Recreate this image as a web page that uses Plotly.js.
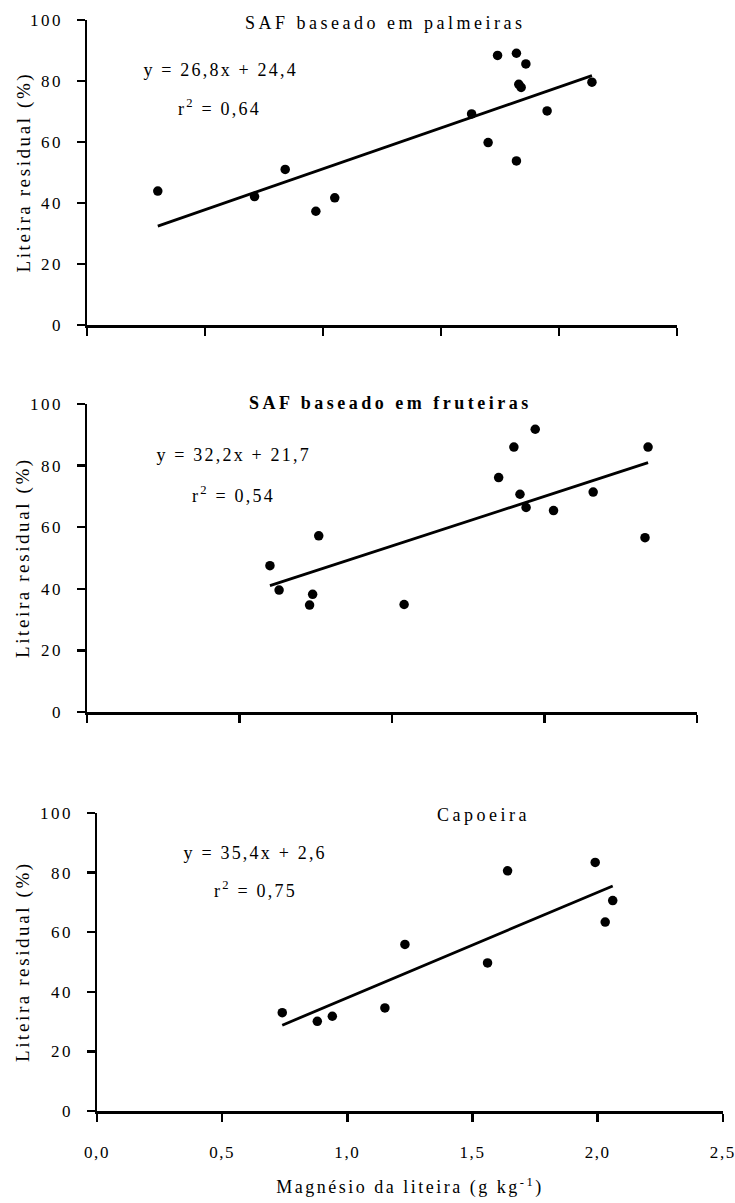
<!DOCTYPE html>
<html>
<head>
<meta charset="utf-8">
<script src="https://cdn.plot.ly/plotly-3.0.1.min.js"></script>
<style>
  html, body { margin: 0; padding: 0; background: #fff; }
  #chart { width: 735px; height: 1203px; }
  #chart svg text { font-family: 'Liberation Serif', 'Times New Roman', 'DejaVu Serif', serif !important; }
  .ytick text, .y2tick text, .y3tick text { letter-spacing: 2.5px; }
  .xtick text, .x2tick text, .x3tick text { letter-spacing: 1.6px; }
  .infolayer text { letter-spacing: 2.5px; }
  g.annotation[data-index="0"] text, g.annotation[data-index="1"] text, g.annotation[data-index="2"] text { letter-spacing: 3.5px; }
  g.annotation[data-index="3"] text, g.annotation[data-index="4"] text, g.annotation[data-index="5"] text,
  g.annotation[data-index="6"] text, g.annotation[data-index="7"] text, g.annotation[data-index="8"] text { letter-spacing: 2.2px; }
  g.annotation[data-index="9"] text, g.annotation[data-index="10"] text, g.annotation[data-index="11"] text { letter-spacing: 2.6px; }
</style>
</head>
<body>
<div id="chart"></div>
<script>
// ---- Data ----
const panelTitles = ["SAF baseado em palmeiras", "SAF baseado em fruteiras", "Capoeira"];

const xPalmeiras = [0.30, 0.71, 0.84, 0.97, 1.05, 1.63, 1.70, 1.74, 1.82, 1.82, 1.83, 1.84, 1.86, 1.95, 2.14];
const yPalmeiras = [43.9, 42.1, 51.0, 37.3, 41.7, 69.2, 59.8, 88.4, 89.1, 53.8, 78.9, 77.9, 85.6, 70.2, 79.6];

const xFruteiras = [0.60, 0.63, 0.73, 0.74, 0.76, 1.04, 1.35, 1.40, 1.42, 1.44, 1.47, 1.53, 1.66, 1.83, 1.84];
const yFruteiras = [47.5, 39.6, 34.7, 38.2, 57.2, 34.9, 76.1, 86.0, 70.7, 66.4, 91.8, 65.4, 71.4, 56.6, 86.0];

const xCapoeira = [0.74, 0.88, 0.94, 1.15, 1.23, 1.56, 1.64, 1.99, 2.03, 2.06];
const yCapoeira = [33.0, 30.1, 31.8, 34.6, 55.9, 49.7, 80.6, 83.4, 63.4, 70.6];

const slopes = [26.8, 32.2, 35.4];
const intercepts = [24.4, 21.7, 2.6];
const r2Values = [0.64, 0.54, 0.75];

const xTickSets = [[0, 0.5, 1.0, 1.5, 2.0, 2.5], [0, 0.5, 1.0, 1.5, 2.0], [0, 0.5, 1.0, 1.5, 2.0, 2.5]];
const xTickLabels = ["0,0", "0,5", "1,0", "1,5", "2,0", "2,5"];
const yTickVals = [0, 20, 40, 60, 80, 100];

const xTitle = "Magnésio da liteira (g kg<sup>-1</sup>)";
const yTitle = "Liteira residual (%)";

// ---- Build ----
const fmt = v => v.toFixed(1).replace('.', ',');
const fmt2 = v => v.toFixed(2).replace('.', ',');

const xs = [xPalmeiras, xFruteiras, xCapoeira];
const ys = [yPalmeiras, yFruteiras, yCapoeira];
const axSuffix = ['', '2', '3'];

const traces = [];
xs.forEach((xv, i) => {
  traces.push({
    type: 'scatter', mode: 'markers',
    x: xv, y: ys[i],
    xaxis: 'x' + axSuffix[i], yaxis: 'y' + axSuffix[i],
    marker: { color: '#000', size: 9.5, symbol: 'circle' },
    showlegend: false, hoverinfo: 'skip'
  });
  const xmin = Math.min(...xv), xmax = Math.max(...xv);
  traces.push({
    type: 'scatter', mode: 'lines',
    x: [xmin, xmax],
    y: [slopes[i] * xmin + intercepts[i], slopes[i] * xmax + intercepts[i]],
    xaxis: 'x' + axSuffix[i], yaxis: 'y' + axSuffix[i],
    line: { color: '#000', width: 2.8 },
    showlegend: false, hoverinfo: 'skip'
  });
});

const W = 735, H = 1203;
const FONT = "Liberation Serif";

// panel geometry in pixels: [left, right, top(100), bottom(0)]
const geom = [
  [87, 677, 20, 325],
  [87, 697, 404, 712],
  [97, 723, 813, 1111]
];

function xAxis(i) {
  const tv = xTickSets[i];
  const ax = {
    domain: [geom[i][0] / W, geom[i][1] / W],
    range: [0, tv[tv.length - 1] + 0.0005],
    anchor: 'y' + axSuffix[i],
    tickmode: 'array', tickvals: tv, ticktext: xTickLabels.slice(0, tv.length),
    showticklabels: i === 2,
    ticklabeloverflow: 'allow',
    ticks: 'outside', ticklen: 8, tickwidth: 2.5, tickcolor: '#000',
    showline: true, linecolor: '#000', linewidth: 2.5,
    showgrid: false, zeroline: false,
    ticklabelstandoff: 16,
    tickfont: { family: FONT, size: 17, color: '#000' },
    fixedrange: true
  };
  if (i === 2) ax.title = { text: xTitle, font: { family: FONT, size: 18, color: '#000' }, standoff: 20 };
  return ax;
}
function yAxis(i) {
  return {
    domain: [1 - geom[i][3] / H, 1 - geom[i][2] / H],
    range: [0, 100],
    anchor: 'x' + axSuffix[i],
    tickmode: 'array', tickvals: yTickVals,
    ticks: 'outside', ticklen: 8, tickwidth: 2.5, tickcolor: '#000',
    showline: true, linecolor: '#000', linewidth: 2.5,
    showgrid: false, zeroline: false,
    ticklabelstandoff: 10,
    tickfont: { family: FONT, size: 17, color: '#000' },
    fixedrange: true
  };
}

// annotation centres in pixels
const titlePos = [[385, 23], [390, 403], [483, 815]];
const eqPos = [[220, 70], [233, 455], [255, 853]];
const r2Pos = [[219, 107], [233, 494], [256, 889]];
const yTitleX = [23, 23, 23];

const annotations = [];
panelTitles.forEach((t, i) => {
  annotations.push({
    xref: 'paper', yref: 'paper', x: titlePos[i][0] / W, y: 1 - titlePos[i][1] / H,
    xanchor: 'center', yanchor: 'middle', showarrow: false, text: t,
    font: { family: FONT, size: 18, color: '#000', weight: i === 1 ? 'bold' : 'normal' }
  });
});
slopes.forEach((s, i) => {
  annotations.push({
    xref: 'paper', yref: 'paper', x: eqPos[i][0] / W, y: 1 - eqPos[i][1] / H,
    xanchor: 'center', yanchor: 'middle', showarrow: false,
    text: 'y = ' + fmt(s) + 'x + ' + fmt(intercepts[i]),
    font: { family: FONT, size: 18, color: '#000' }
  });
  annotations.push({
    xref: 'paper', yref: 'paper', x: r2Pos[i][0] / W, y: 1 - r2Pos[i][1] / H,
    xanchor: 'center', yanchor: 'middle', showarrow: false,
    text: 'r<sup>2</sup> = ' + fmt2(r2Values[i]),
    font: { family: FONT, size: 18, color: '#000' }
  });
});
// y-axis titles (one per panel), centred on each panel's vertical extent
geom.forEach((g, i) => {
  annotations.push({
    xref: 'paper', yref: 'paper', x: yTitleX[i] / W, y: 1 - ((g[2] + g[3]) / 2) / H,
    xanchor: 'center', yanchor: 'middle', showarrow: false, textangle: -90,
    text: yTitle,
    font: { family: FONT, size: 19, color: '#000' }
  });
});

const layout = {
  width: W, height: H,
  margin: { l: 0, r: 0, t: 0, b: 0 },
  paper_bgcolor: '#fff', plot_bgcolor: '#fff',
  separators: ',.',
  font: { family: FONT, color: '#000' },
  showlegend: false,
  xaxis: xAxis(0), yaxis: yAxis(0),
  xaxis2: xAxis(1), yaxis2: yAxis(1),
  xaxis3: xAxis(2), yaxis3: yAxis(2),
  annotations: annotations
};

Plotly.newPlot('chart', traces, layout, { staticPlot: true, displayModeBar: false });
</script>
</body>
</html>
